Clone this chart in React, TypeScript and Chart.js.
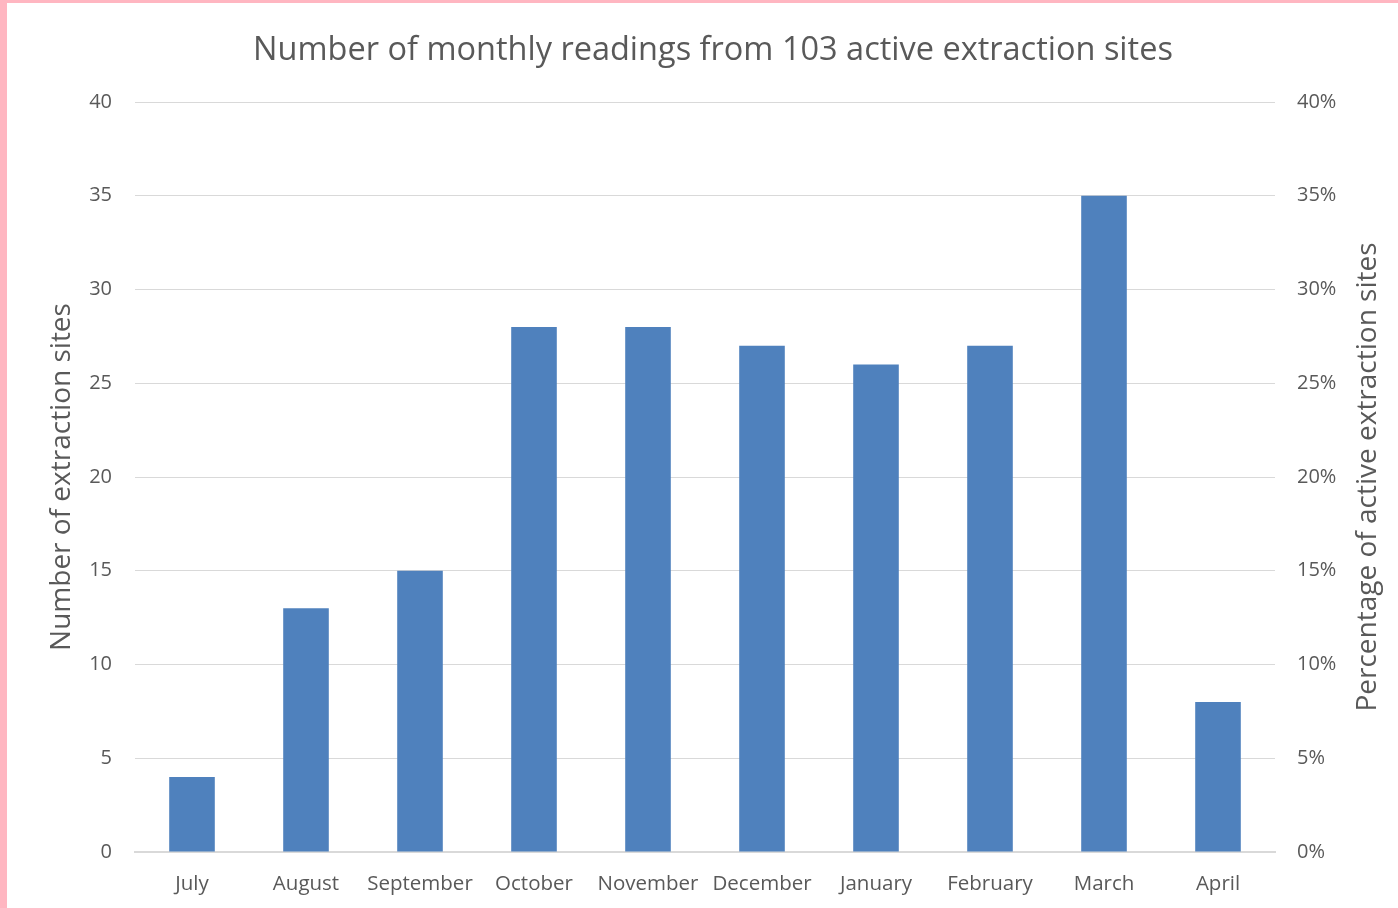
import React, { useEffect, useRef } from "react";
import { Chart, registerables } from "chart.js";

Chart.register(...registerables);

const chartTitle = "Number of monthly readings from 103 active extraction sites";
const leftAxisTitle = "Number of extraction sites";
const rightAxisTitle = "Percentage of active extraction sites";
const months = ["July", "August", "September", "October", "November", "December", "January", "February", "March", "April"];
const siteCounts = [4, 13, 15, 28, 28, 27, 26, 27, 35, 8];
const leftTickMax = 40;
const rightTickMax = 40;
const tickStep = 5;

const FONT = "'Open Sans', 'Noto Sans', sans-serif";
const TEXT = "#595959";
const GRID = "#d9d9d9";

const textPlugin = {
  id: "extraText",
  afterDraw(chart: any) {
    const { ctx, chartArea } = chart;
    ctx.save();
    ctx.fillStyle = TEXT;
    ctx.textAlign = "center";
    ctx.textBaseline = "middle";
    ctx.font = `32.5px ${FONT}`;
    ctx.fillText(chartTitle, 706, 48);
    ctx.translate(1361, (chartArea.top + chartArea.bottom) / 2);
    ctx.rotate(-Math.PI / 2);
    ctx.font = `28px ${FONT}`;
    ctx.fillText(rightAxisTitle, 0, 0);
    ctx.restore();
  },
};

export default function App() {
  const ref = useRef<HTMLCanvasElement>(null);
  useEffect(() => {
    if (!ref.current) return;
    const chart = new Chart(ref.current, {
      type: "bar",
      data: {
        labels: months,
        datasets: [
          {
            label: "Sites",
            data: siteCounts,
            backgroundColor: "#4F81BD",
            borderWidth: 0,
            barPercentage: 0.4,
            categoryPercentage: 1,
            yAxisID: "y",
          },
        ],
      },
      options: {
        responsive: false,
        animation: false,
        layout: { padding: { top: 99, left: 0, right: 0, bottom: 0 } },
        plugins: {
          legend: { display: false },
          tooltip: { enabled: false },
          title: { display: false },
        },
        scales: {
          x: {
            grid: { display: false, drawTicks: false },
            border: { display: true, color: GRID, width: 2 },
            ticks: { color: TEXT, font: { family: FONT, size: 20.5 }, padding: 20, maxRotation: 0, autoSkip: false },
            afterFit: (s: any) => { s.height = 56; },
          },
          y: {
            position: "left",
            min: 0,
            max: leftTickMax,
            grid: { color: GRID, lineWidth: 1, drawTicks: false },
            border: { display: false },
            ticks: { stepSize: tickStep, color: TEXT, font: { family: FONT, size: 20 }, padding: 23 },
            title: {
              display: true,
              text: leftAxisTitle,
              color: TEXT,
              font: { family: FONT, size: 28 },
              padding: { top: 38, bottom: 0 },
            },
            afterFit: (s: any) => { s.width = 128; },
          },
          y1: {
            position: "right",
            min: 0,
            max: rightTickMax,
            grid: { drawOnChartArea: false, drawTicks: false },
            border: { display: false },
            ticks: {
              stepSize: tickStep,
              color: TEXT,
              font: { family: FONT, size: 20 },
              padding: 22,
              callback: (v: any) => `${v}%`,
            },
            afterFit: (s: any) => { s.width = 123; },
          },
        },
      },
      plugins: [textPlugin],
    } as any);
    return () => chart.destroy();
  }, []);
  return (
    <div
      style={{
        position: "absolute",
        left: 0,
        top: 0,
        width: 1398,
        height: 908,
        boxSizing: "border-box",
        borderLeft: "7px solid #FFB6C1",
        borderTop: "3px solid #FFB6C1",
        background: "#fff",
      }}
    >
      <canvas ref={ref} width={1391} height={905} style={{ display: "block" }} />
    </div>
  );
}
